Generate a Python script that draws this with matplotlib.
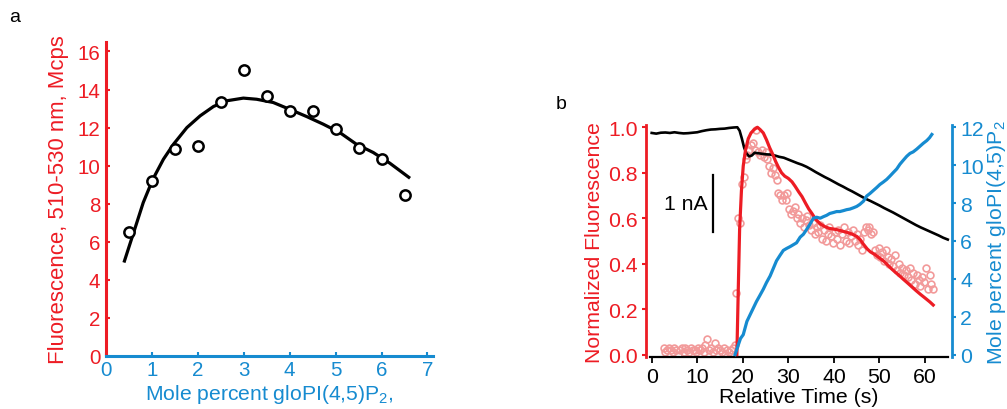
import numpy as np
import matplotlib
matplotlib.use("Agg")
import matplotlib.pyplot as plt

plt.rcParams['font.family'] = ['Liberation Sans', 'DejaVu Sans']
plt.rcParams['mathtext.default'] = 'regular'

RED = '#ed1c24'
BLUE = '#168bd0'
PINK = '#f29a9a'

# --- panel a: fluorescence vs mole percent
mol_pct = [0.5, 1.0, 1.5, 2.0, 2.5, 3.0, 3.5, 4.0, 4.5, 5.0, 5.5, 6.0, 6.5]
fluor_mcps = [6.5, 9.2, 10.85, 11.05, 13.35, 15.05, 13.65, 12.85, 12.85, 11.95, 10.95, 10.35, 8.45]

fit_x = [0.39, 0.6, 0.81, 1.02, 1.25, 1.47, 1.76, 2.05, 2.34, 2.63, 2.99,
         3.28, 3.64, 3.99, 4.37, 4.73, 5.09, 5.45, 5.82, 6.18, 6.62]
fit_y = [4.91, 6.48, 8.06, 9.29, 10.34, 11.13, 12.0, 12.62, 13.11, 13.41, 13.55,
         13.49, 13.32, 12.97, 12.58, 12.18, 11.74, 11.13, 10.69, 10.13, 9.34]

# --- panel b: time course
# normalized fluorescence, one frame every 0.4 s starting at 2.6 s
frame_t0 = 2.6
frame_dt = 0.4
fluor_pts = [
    0.03, 0.01, 0.02, 0.03, 0.02, 0.01, 0.03, 0.02, 0.00, 0.02,
    0.03, 0.01, 0.03, 0.02, 0.01, 0.03, 0.02, 0.02, 0.01, 0.03,
    0.02, 0.03, 0.01, 0.04, 0.07, 0.02, 0.03, 0.01, 0.05, 0.02,
    0.03, 0.02, 0.01, 0.03, 0.00, 0.02, 0.01, 0.02, 0.03, 0.04,
    0.27, 0.60, 0.58, 0.75, 0.78, 0.86, 0.88, 0.90, 0.92, 0.93,
    0.90, 0.99, 0.89, 0.88, 0.90, 0.87, 0.89, 0.86, 0.83, 0.80,
    0.82, 0.79, 0.77, 0.71, 0.70, 0.68, 0.70, 0.68, 0.71, 0.64,
    0.62, 0.63, 0.65, 0.60, 0.62, 0.58, 0.60, 0.56, 0.59, 0.61,
    0.57, 0.55, 0.58, 0.53, 0.56, 0.54, 0.57, 0.51, 0.55, 0.50,
    0.53, 0.56, 0.52, 0.49, 0.54, 0.51, 0.55, 0.48, 0.53, 0.56,
    0.50, 0.54, 0.49, 0.52, 0.55, 0.50, 0.53, 0.48, 0.51, 0.46,
    0.54, 0.56, 0.55, 0.56, 0.53, 0.54, 0.46, 0.44, 0.47, 0.43,
    0.45, 0.41, 0.46, 0.43, 0.40, 0.42, 0.39, 0.44, 0.37, 0.40,
    0.36, 0.38, 0.35, 0.37, 0.34, 0.38, 0.33, 0.36, 0.31, 0.35,
    0.33, 0.30, 0.34, 0.32, 0.38, 0.29, 0.35, 0.31, 0.29,
]

fit_t = [18.7, 19.0, 19.3, 19.7, 20.1, 20.6, 21.2, 21.8, 22.5, 23.2, 23.8, 24.5,
         25.2, 25.9, 26.6, 27.2, 27.8, 28.5, 29.2, 30.0, 30.8, 31.5, 32.3, 33.0,
         33.8, 34.5, 35.2, 36.0, 37.0, 38.0, 39.0, 40.0, 41.0, 42.0, 43.0, 44.0,
         45.0, 45.8, 46.5, 47.3, 48.0, 49.0, 50.0, 51.0, 51.6, 52.5, 53.5, 54.5,
         55.2, 56.0, 57.0, 58.0, 59.0, 60.0, 61.1, 61.8]
fit_norm = [0.0, 0.28, 0.55, 0.72, 0.83, 0.90, 0.95, 0.975, 0.99, 1.0, 0.99, 0.975,
            0.945, 0.91, 0.88, 0.85, 0.825, 0.80, 0.785, 0.775, 0.76, 0.74, 0.715, 0.695,
            0.665, 0.64, 0.62, 0.595, 0.575, 0.563, 0.555, 0.552, 0.548, 0.542, 0.537, 0.53,
            0.52, 0.505, 0.485, 0.465, 0.452, 0.44, 0.425, 0.41, 0.398, 0.38, 0.362, 0.345,
            0.332, 0.318, 0.300, 0.282, 0.265, 0.249, 0.231, 0.218]

# membrane current, scaled onto the left axis (1 nA = 0.25)
cur_t = [0, 1, 2, 3, 4, 5, 6, 7, 8, 9, 10, 11, 12, 13, 14, 15, 16, 17, 18, 18.8,
         19.3, 19.8, 20.3, 20.8, 21.4, 22.0, 22.6, 23.2, 24, 25, 26, 27, 28, 29, 30,
         31, 32, 33, 34, 35, 36, 37, 38, 39, 40, 41, 42, 43, 44, 45, 46, 47, 48, 49,
         50, 51, 52, 53, 54, 55, 56, 57, 58, 59, 60, 61, 62, 63, 64, 65]
cur_norm = [0.975, 0.972, 0.976, 0.977, 0.975, 0.978, 0.975, 0.973, 0.974, 0.976,
            0.978, 0.983, 0.987, 0.990, 0.991, 0.993, 0.994, 0.997, 0.999, 1.0,
            0.985, 0.95, 0.91, 0.885, 0.872, 0.876, 0.888, 0.886, 0.884, 0.881,
            0.880, 0.876, 0.870, 0.866, 0.858, 0.850, 0.842, 0.835, 0.826, 0.815,
            0.803, 0.792, 0.781, 0.771, 0.760, 0.749, 0.739, 0.728, 0.718, 0.707,
            0.696, 0.685, 0.676, 0.666, 0.656, 0.645, 0.635, 0.625, 0.614, 0.603,
            0.592, 0.581, 0.570, 0.560, 0.551, 0.542, 0.533, 0.524, 0.514, 0.506]

mp_t = [18.3, 19.0, 19.5, 20.1, 20.9, 21.6, 22.3, 23.0, 23.7, 24.5, 25.2, 26.0, 26.7,
        27.4, 28.2, 28.9, 29.6, 30.4, 31.1, 31.8, 32.6, 33.3, 34.0, 34.8, 35.5, 36.2,
        37.0, 37.7, 38.4, 39.1, 39.9, 40.6, 41.3, 42.1, 42.8, 43.5, 44.3, 45.0, 45.7,
        46.5, 47.2, 47.9, 48.6, 49.4, 50.1, 50.8, 51.6, 52.3, 53.0, 53.8, 54.5, 55.2,
        56.0, 56.7, 57.4, 58.2, 58.9, 59.6, 60.4, 61.0, 61.5]
mp_val = [0.0, 0.5, 0.85, 1.05, 1.75, 2.1, 2.45, 2.8, 3.1, 3.45, 3.8, 4.15, 4.55,
          4.95, 5.25, 5.5, 5.6, 5.7, 5.8, 5.9, 6.2, 6.35, 6.6, 6.9, 7.2, 7.25,
          7.2, 7.28, 7.35, 7.45, 7.5, 7.55, 7.55, 7.6, 7.65, 7.68, 7.75, 7.82, 7.93,
          8.1, 8.37, 8.5, 8.65, 8.82, 8.98, 9.1, 9.25, 9.42, 9.6, 9.8, 10.05, 10.25,
          10.47, 10.62, 10.7, 10.85, 11.0, 11.15, 11.3, 11.45, 11.62]

fig = plt.figure(figsize=(10.07, 4.10), dpi=100)

# ---------------- panel a
ax = fig.add_axes([0.1053, 0.1293, 0.3247, 0.7659])
ax.plot(fit_x, fit_y, color='black', lw=2.3, solid_capstyle='butt')
ax.plot(mol_pct, fluor_mcps, 'o', ms=7.4, mfc='white', mec='black', mew=1.8)
ax.set_xlim(0, 7.12)
ax.set_ylim(0, 16.5)
ax.set_xticks(range(8))
ax.set_yticks(range(0, 17, 2))
for s in ['top', 'right']:
    ax.spines[s].set_visible(False)
ax.spines['left'].set_color(RED)
ax.spines['left'].set_linewidth(2.2)
ax.spines['bottom'].set_color(BLUE)
ax.spines['bottom'].set_linewidth(2.2)
ax.tick_params(axis='y', direction='in', colors=RED, labelsize=14.8, length=3, width=1.5, pad=4)
ax.tick_params(axis='x', direction='in', colors=BLUE, labelsize=14.8, length=3, width=1.5, pad=3)
ax.set_ylabel('Fluorescence, 510-530 nm, Mcps', color=RED, fontsize=15.9, labelpad=6)
ax.set_xlabel('Mole percent gloPI(4,5)P$_2$,', color=BLUE, fontsize=15.2, labelpad=2)
fig.text(0.0144, 0.958, 'a', fontsize=14, va='center', ha='center')

# ---------------- panel b
bx = fig.add_axes([0.6415, 0.1261, 0.3039, 0.5666])
frame_t = frame_t0 + frame_dt * np.arange(len(fluor_pts))
bx.plot(frame_t, fluor_pts, 'o', ms=4.9, mfc='none', mec=PINK, mew=1.2, zorder=2)
bx.plot(cur_t, cur_norm, color='black', lw=1.9, zorder=3)
bx.plot(fit_t, fit_norm, color=RED, lw=2.3, zorder=4)
bx.set_xlim(-1.25, 65.93)
bx.set_ylim(-0.012, 1.01)
bx.set_xticks(range(0, 61, 10))
bx.set_yticks(np.arange(0, 1.01, 0.2))
bx.set_yticklabels(['%.1f' % v for v in np.arange(0, 1.01, 0.2)])
bx.spines['top'].set_visible(False)
bx.spines['right'].set_visible(False)
bx.spines['left'].set_color(RED)
bx.spines['left'].set_linewidth(2.0)
bx.spines['bottom'].set_linewidth(1.6)
bx.spines['bottom'].set_bounds(-0.4, 65.1)
bx.tick_params(axis='y', direction='out', colors=RED, labelsize=15.3, length=3, width=1.5, pad=3)
bx.tick_params(axis='x', direction='out', colors='black', labelsize=15.3, length=4, width=1.3, pad=3)
bx.set_ylabel('Normalized Fluorescence', color=RED, fontsize=15.3, labelpad=3)
bx.set_xlabel('Relative Time (s)', fontsize=15.3, labelpad=1)

# scale bar for the current trace
bx.plot([13.4, 13.4], [0.539, 0.788], color='black', lw=1.6)
bx.text(12.2, 0.665, '1 nA', fontsize=15.3, ha='right', va='center')

rx = bx.twinx()
rx.plot(mp_t, mp_val, color=BLUE, lw=2.3)
rx.set_ylim(-0.144, 12.12)
rx.set_yticks(range(0, 13, 2))
for s in ['top', 'left', 'bottom']:
    rx.spines[s].set_visible(False)
rx.spines['right'].set_color(BLUE)
rx.spines['right'].set_linewidth(2.0)
rx.tick_params(axis='y', direction='out', colors=BLUE, labelsize=15.3, length=3, width=1.5, pad=3)
rx.set_ylabel('Mole percent gloPI(4,5)P$_2$', color=BLUE, fontsize=15.3, labelpad=1)
fig.text(0.557, 0.744, 'b', fontsize=14, va='center', ha='center')

fig.savefig('out.png', dpi=100)
